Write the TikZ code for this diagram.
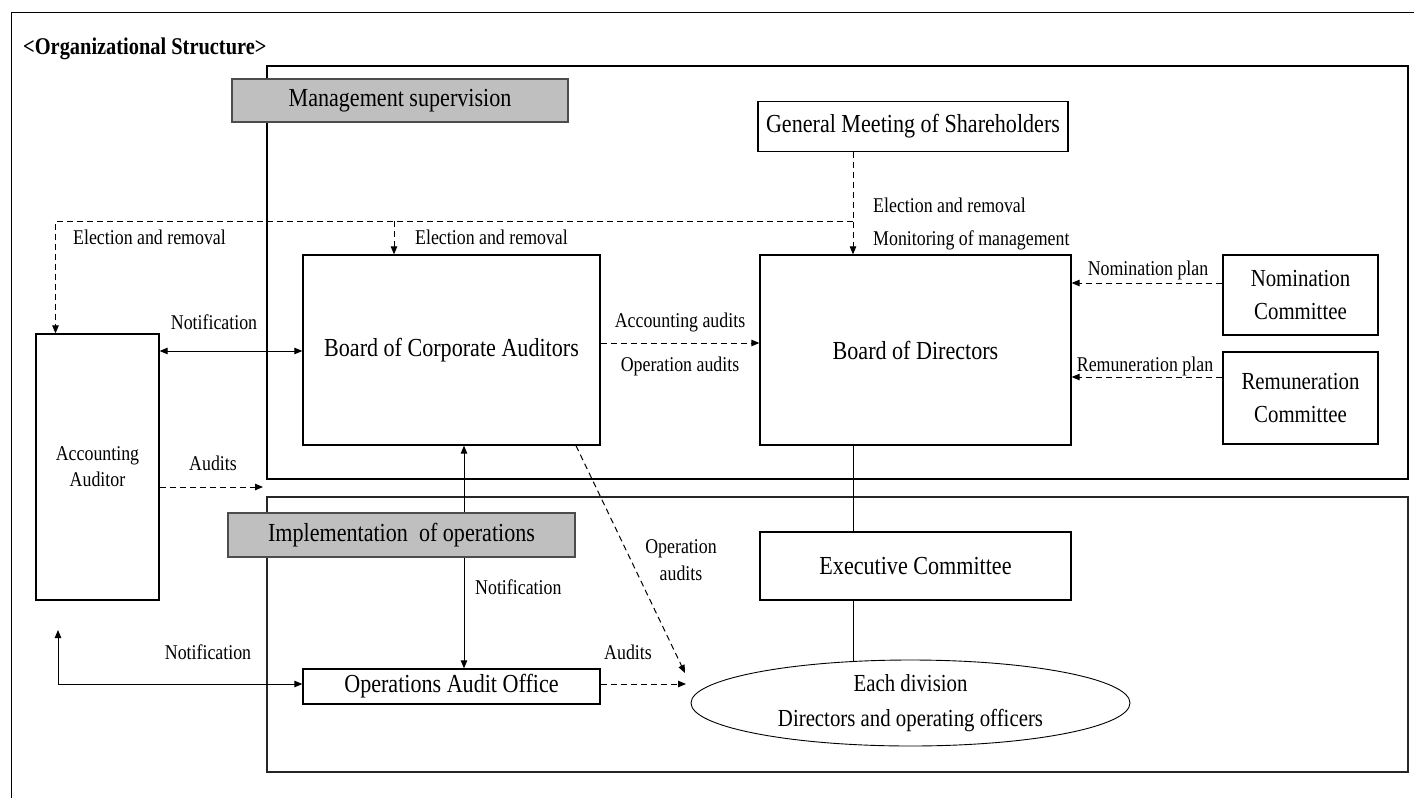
\documentclass[tikz,border=0pt]{standalone}
\usepackage{fontspec}
\setmainfont{Liberation Serif}[FakeStretch=0.85]
\usetikzlibrary{arrows.meta,shapes.geometric}
\newcommand{\mainsz}{\fontsize{26}{30}\selectfont}
\newcommand{\labsz}{\fontsize{21}{27}\selectfont}
\newcommand{\comsz}{\fontsize{24.5}{33}\selectfont}
\newcommand{\aasz}{\fontsize{21}{26}\selectfont}
\newcommand{\ellsz}{\fontsize{24.5}{35}\selectfont}
\newcommand{\titsz}{\fontsize{24}{26}\selectfont\bfseries}
\begin{document}
\begin{tikzpicture}[x=1pt,y=-1pt,
  arr/.tip={Triangle[length=8pt,width=6.5pt]},
  box/.style={draw,line width=1.3pt,inner sep=0pt,align=center,font=\mainsz},
  cbox/.style={draw,line width=1.3pt,inner sep=0pt,align=center,font=\comsz},
  abox/.style={draw,line width=1.3pt,inner sep=0pt,align=center,font=\aasz},
  gbox/.style={draw=black!70,fill=black!25,line width=1.2pt,inner sep=0pt,font=\mainsz},
  region/.style={draw,line width=1.6pt},
  lab/.style={inner sep=0pt,font=\labsz},
  dsh/.style={line width=1pt,dash pattern=on 6pt off 4pt},
  sol/.style={line width=1pt}]
\useasboundingbox (0,0) rectangle (1414,798);
% outer frame
\draw[line width=1pt] (11,798) -- (11,12.7) -- (1414,12.7);
\node[anchor=west,inner sep=0pt,font=\titsz] (title) at (23,49) {\textless Organizational Structure\textgreater};
% regions
\draw[region] (267,66) rectangle (1408,479);
\draw[region,draw=black!85,line width=1.4pt] (267,497) rectangle (1408,772);
% nodes
\node[box,minimum width=310pt,minimum height=50pt] (gm) at (913,126.5) {General Meeting of Shareholders};
\node[box,minimum width=297pt,minimum height=190pt] (bca) at (451.5,350) {Board of Corporate Auditors};
\node[box,minimum width=311pt,minimum height=190pt] (bod) at (915.5,350) {Board of Directors};
\node[cbox,minimum width=155pt,minimum height=80pt] (nom) at (1300.5,295) {Nomination\\Committee};
\node[cbox,minimum width=155pt,minimum height=92pt] (rem) at (1300.5,398) {Remuneration\\Committee};
\node[abox,minimum width=123pt,minimum height=266pt] (aa) at (97.5,467) {Accounting\\Auditor};
\node[box,minimum width=311pt,minimum height=68pt] (ec) at (915.5,566) {Executive Committee};
\node[box,minimum width=297pt,minimum height=35pt] (oao) at (451.5,686.5) {Operations Audit Office};
\node[ellipse,draw,line width=0.9pt,minimum width=439pt,minimum height=86pt,inner sep=0pt,align=center,font=\ellsz] (div) at (910.5,703)
  {Each division\\Directors and operating officers};
% helper coordinates
\coordinate (vx) at (853,0);
\coordinate (hy) at (0,221);
\coordinate (aax) at (55.5,0);
\coordinate (bx) at (394,0);
\coordinate (ny) at (0,351);
\coordinate (acy) at (0,343);
\coordinate (npy) at (0,283);
\coordinate (rpy) at (0,377);
\coordinate (auy) at (0,487);
\coordinate (upl) at (263,487);
\coordinate (nx) at (464,0);
\coordinate (bt) at (58,630);
\coordinate (oy) at (0,684);
\coordinate (dv1) at (686,684);
\coordinate (dx) at (576,0);
\coordinate (d1) at (685,673);
\coordinate (et) at (853,661.5);
% connectors
\draw[dsh,-arr] (gm.south -| vx) -- (bod.north -| vx);
\draw[dsh,-arr] (vx |- hy) -| (aa.north -| aax);
\draw[dsh,-arr] (bx |- hy) -- (bca.north -| bx);
\draw[sol,arr-arr] (aa.east |- ny) -- (bca.west |- ny);
\draw[dsh,-arr] (bca.east |- acy) -- (bod.west |- acy);
\draw[dsh,-arr] (nom.west |- npy) -- (bod.east |- npy);
\draw[dsh,-arr] (rem.west |- rpy) -- (bod.east |- rpy);
\draw[dsh,-arr] (aa.east |- auy) -- (upl);
\draw[sol,arr-arr] (bca.south -| nx) -- (oao.north -| nx);
\draw[sol,arr-arr] (bt) |- (oao.west |- oy);
\draw[dsh,-arr] (oao.east |- oy) -- (dv1);
\draw[dsh,-arr] (bca.south -| dx) -- (d1);
\draw[sol,line width=0.8pt] (bod.south -| vx) -- (ec.north -| vx);
\draw[sol,line width=0.8pt] (ec.south -| vx) -- (et);
% grey headings (on top of region frames and lines)
\node[gbox,minimum width=336pt,minimum height=43pt] (ms) at (400,100.5) {Management supervision};
\node[gbox,minimum width=347pt,minimum height=44pt] (io) at (401.5,535) {Implementation~ of operations};
% labels
\node[lab] (l1) at (214,322) {Notification};
\node[lab,anchor=west] (l2) at (873,205) {Election and removal};
\node[lab,anchor=west] (l3) at (873,240) {Monitoring of management};
\node[lab,anchor=west] (l4) at (73,237) {Election and removal};
\node[lab,anchor=west] (l5) at (415,237) {Election and removal};
\node[lab] (l6) at (680,322) {Accounting audits};
\node[lab] (l7) at (680,366) {Operation audits};
\node[lab] (l8) at (1148,270) {Nomination plan};
\node[lab] (l9) at (1145,366) {Remuneration plan};
\node[lab] (l10) at (213,463) {Audits};
\node[lab,anchor=west] (l11) at (475,587) {Notification};
\node[lab] (l12) at (208,652) {Notification};
\node[lab] (l13) at (628,652) {Audits};
\node[lab,align=center] (l14) at (681,560) {Operation\\audits};
\end{tikzpicture}
\end{document}
